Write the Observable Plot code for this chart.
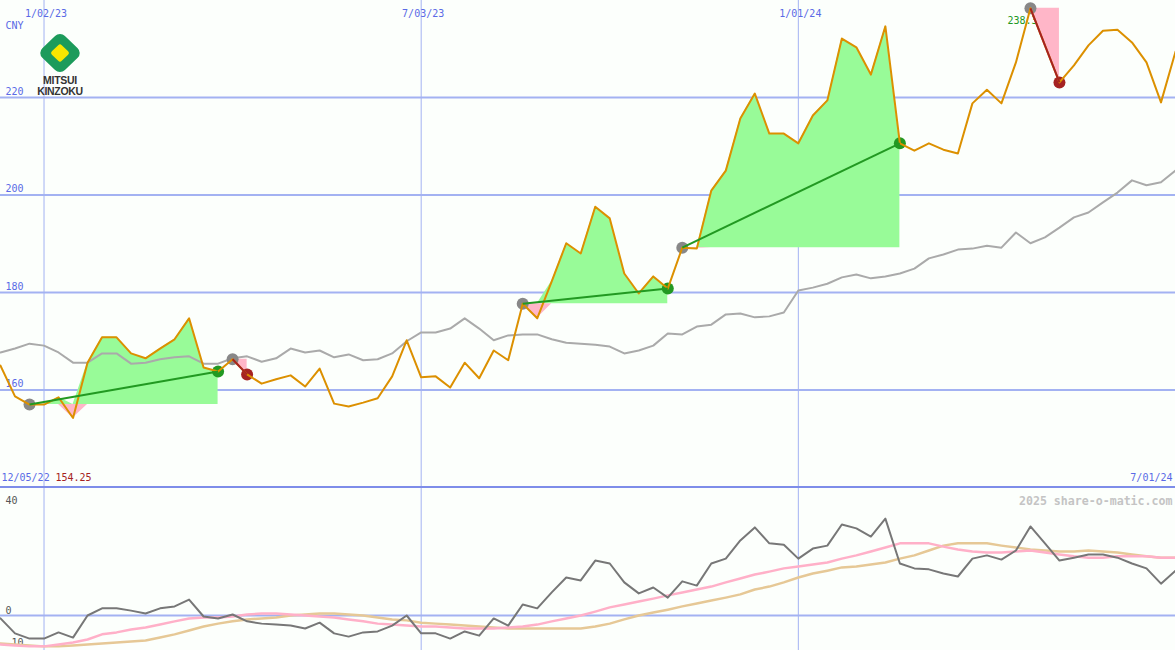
<!DOCTYPE html>
<html><head><meta charset="utf-8">
<script src="https://cdn.jsdelivr.net/npm/d3@7"></script>
<script src="https://cdn.jsdelivr.net/npm/@observablehq/plot@0.6"></script>
<style>
html,body{margin:0;padding:0;background:#fcfffc;}
#wrap{position:relative;width:1175px;height:650px;overflow:hidden;background:#fcfffc;}
#wrap svg{display:block;}
#sep{height:2px;background:#7e8de9;}
#logo{position:absolute;left:34px;top:32px;}
</style></head><body>
<div id="wrap">
<div id="top"></div><div id="sep"></div><div id="bottom"></div>
<svg id="logo" width="52" height="66" viewBox="0 0 52 66">
  <g transform="translate(26,21) scale(1,0.96) rotate(45)">
    <rect x="-16" y="-16" width="32" height="32" rx="7" fill="#1c9b5b"/>
    <rect x="-7" y="-7" width="14" height="14" rx="2.5" fill="#f8e600"/>
  </g>
  <text x="26" y="52" text-anchor="middle" font-family="Liberation Sans, Arial, sans-serif" font-weight="bold" font-size="10.5" letter-spacing="-0.3" fill="#333">MITSUI</text>
  <text x="26" y="62.5" text-anchor="middle" font-family="Liberation Sans, Arial, sans-serif" font-weight="bold" font-size="10.5" letter-spacing="-0.3" fill="#333">KINZOKU</text>
</svg>
</div>
<script>
// ---- data (weekly, starting Monday 2022-12-12) ----
const startDate = "2022-12-12";
const endDate = "2024-07-01";
const price = [
  165.0, 158.7, 157.0, 157.0, 158.5, 154.25, 165.6, 170.8, 170.8, 167.5,
  166.5, 168.5, 170.4, 174.7, 164.6, 163.8, 166.3, 163.2, 161.3, 162.2,
  163.0, 160.7, 164.4, 157.2, 156.6, 157.4, 158.3, 162.8, 170.2, 162.6,
  162.8, 160.5, 165.6, 162.4, 168.1, 166.1, 177.7, 174.7, 182.3, 190.1,
  188.0, 197.6, 195.2, 183.9, 179.8, 183.3, 180.8, 189.2, 189.0, 200.9,
  205.0, 215.7, 220.8, 212.6, 212.6, 210.6, 216.3, 219.4, 232.1, 230.3,
  224.7, 234.6, 210.6, 209.1, 210.6, 209.3, 208.5, 218.8, 221.6, 218.8,
  227.2, 238.3, 230.7, 223.1, 226.6, 230.7, 233.7, 233.9, 231.3, 227.2,
  219.0, 229.4
];
const relative = [
  167.7, 168.5, 169.5, 169.1, 167.7, 165.6, 165.6, 167.5, 167.5, 165.4,
  165.6, 166.3, 166.7, 166.9, 165.4, 165.4, 166.5, 166.9, 165.8, 166.5,
  168.5, 167.7, 168.1, 166.7, 167.3, 166.1, 166.3, 167.5, 170.0, 171.8,
  171.8, 172.6, 174.7, 172.6, 170.2, 171.2, 171.4, 171.4, 170.4, 169.7,
  169.5, 169.3, 168.9, 167.5, 168.1, 169.1, 171.6, 171.4, 173.0, 173.4,
  175.5, 175.7, 174.9, 175.1, 175.9, 180.4, 181.0, 181.8, 183.1, 183.7,
  182.9, 183.3, 183.9, 184.9, 187.0, 187.8, 188.8, 189.0, 189.6, 189.2,
  192.3, 190.1, 191.3, 193.3, 195.4, 196.4, 198.5, 200.5, 203.0, 202.0,
  202.6, 205.0
];
const momentum = [
  -0.9, -5.5, -7.1, -7.1, -5.2, -6.8, 0.0, 2.2, 2.2, 1.5,
  0.6, 2.2, 2.8, 4.9, -0.3, -0.9, 0.3, -1.8, -2.5, -2.8,
  -3.1, -4.0, -2.2, -5.5, -6.5, -5.2, -4.9, -3.1, 0.0, -5.5,
  -5.5, -7.1, -4.9, -6.2, -0.9, -3.1, 3.4, 2.2, 7.1, 11.7,
  10.8, 16.9, 16.0, 10.2, 6.8, 8.6, 5.5, 10.5, 9.2, 16.0,
  17.5, 23.1, 27.1, 22.2, 21.8, 17.5, 20.6, 21.5, 28.0, 26.8,
  24.3, 29.8, 16.0, 14.5, 14.2, 12.9, 12.0, 17.5, 18.5, 17.2,
  20.0, 27.4, 22.2, 16.9, 17.8, 18.8, 18.8, 17.8, 16.0, 14.5,
  9.8, 13.8
];
const avgFast = [
  -8.9, -9.2, -9.5, -9.5, -8.9, -8.3, -7.4, -5.8, -5.2, -4.3,
  -3.7, -2.8, -1.8, -0.9, -0.6, -0.6, -0.3, 0.3, 0.6, 0.6,
  0.3, 0.0, -0.3, -0.6, -1.2, -1.8, -2.5, -2.8, -3.1, -3.4,
  -3.4, -3.7, -4.0, -4.0, -4.0, -3.7, -3.4, -2.8, -1.8, -0.9,
  0.0, 1.2, 2.5, 3.4, 4.3, 5.2, 6.2, 7.1, 8.0, 8.9,
  10.2, 11.4, 12.6, 13.5, 14.5, 15.1, 15.7, 16.3, 17.5, 18.5,
  19.7, 20.9, 22.2, 22.2, 22.2, 21.2, 20.3, 19.7, 19.4, 19.4,
  19.7, 20.0, 19.4, 18.8, 18.2, 17.8, 17.8, 18.2, 18.2, 18.2,
  17.8, 17.8
];
const avgSlow = [
  -8.6, -8.9, -9.2, -9.5, -9.5, -9.2, -8.9, -8.6, -8.3, -8.0,
  -7.7, -6.8, -5.8, -4.6, -3.4, -2.5, -1.8, -1.2, -0.9, -0.6,
  0.0, 0.3, 0.6, 0.6, 0.3, 0.0, -0.6, -1.2, -1.5, -2.2,
  -2.5, -2.8, -3.1, -3.4, -3.7, -4.0, -4.0, -4.0, -4.0, -4.0,
  -4.0, -3.4, -2.5, -1.2, 0.0, 0.9, 1.8, 2.8, 3.7, 4.6,
  5.5, 6.5, 8.0, 8.9, 10.2, 11.7, 12.9, 13.8, 14.8, 15.1,
  15.7, 16.3, 17.5, 18.5, 20.0, 21.5, 22.2, 22.2, 22.2, 21.5,
  20.9, 20.3, 20.0, 19.7, 19.7, 20.0, 19.7, 19.4, 18.8, 18.2,
  17.8, 17.8
];
// trades (entry week -> exit week)
const tradeEntry = ["2022-12-26", "2023-04-03", "2023-08-21", "2023-11-06", "2024-04-22"];
const tradeExit  = ["2023-03-27", "2023-04-10", "2023-10-30", "2024-02-19", "2024-05-06"];
// tick labels
const xTickDates = ["2023-01-02", "2023-07-03", "2024-01-01"];
const xTickLabels = ["1/02/23", "7/03/23", "1/01/24"];
const yTicks = [160, 180, 200, 220];
const lowerTicks = [40, 0, -10];
const startLabel = "12/05/22";
const endLabel = "7/01/24";
const currency = "CNY";
const watermark = "2025 share-o-matic.com";

// ---- derived tables ----
const parse = s => new Date(s + "T00:00:00Z");
const t0 = parse(startDate);
const dates = price.map((_, i) => d3.utcDay.offset(t0, 7 * i));
const key = d => d.toISOString().slice(0, 10);
const idxOf = new Map(dates.map((d, i) => [key(d), i]));
const rows = dates.map((d, i) => ({date: d, price: price[i], relative: relative[i],
  momentum: momentum[i], avgFast: avgFast[i], avgSlow: avgSlow[i]}));
const trades = tradeEntry.map((e, k) => {
  const i0 = idxOf.get(e), i1 = idxOf.get(tradeExit[k]);
  return {k, i0, i1, d0: dates[i0], d1: dates[i1], p0: price[i0], p1: price[i1], win: price[i1] >= price[i0]};
});
const fillRows = trades.flatMap(t => d3.range(t.i0, t.i1 + 1).map(i => ({
  k: t.k, date: dates[i], base: t.p0, hi: Math.max(price[i], t.p0), lo: Math.min(price[i], t.p0)})));
const xTicks = xTickDates.map(parse);
const iMax = d3.maxIndex(price), iMin = d3.minIndex(price);

const xDomain = [t0, parse(endDate)];
const grid = "#a3b2f2";
const blue = "#5a6ae6";
const font = "DejaVu Sans Mono, monospace";

const upper = Plot.plot({
  width: 1175, height: 486, margin: 0,
  x: {type: "utc", domain: xDomain, axis: null},
  y: {domain: [140.2, 239.9], axis: null},
  style: {background: "transparent", fontFamily: font, fontSize: "10px", overflow: "visible"},
  marks: [
    Plot.ruleY(yTicks, {stroke: grid, strokeWidth: 2}),
    Plot.ruleX(xTicks, {stroke: grid, strokeWidth: 1}),
    Plot.text(yTicks, {y: d => d, text: d => String(d), frameAnchor: "left", textAnchor: "start", dx: 5, dy: -6, fill: blue}),
    Plot.text(xTicks, {x: d => d, text: (d, i) => xTickLabels[i], frameAnchor: "top", dy: 9, dx: 2, fill: blue}),
    Plot.text([currency], {text: d => d, frameAnchor: "top-left", textAnchor: "start", dx: 5, dy: 21, fill: blue}),
    Plot.text([startLabel], {text: d => d, frameAnchor: "bottom-left", textAnchor: "start", dx: 1, dy: -6, fill: blue}),
    Plot.text([price[iMin]], {text: d => String(d), frameAnchor: "bottom-left", textAnchor: "start", dx: 55, dy: -6, fill: "#a52222"}),
    Plot.text([endLabel], {text: d => d, frameAnchor: "bottom-right", textAnchor: "end", dx: -3, dy: -6, fill: blue}),
    Plot.text([rows[iMax]], {x: "date", y: "price", text: d => String(d.price), dx: -8, dy: 12, fill: "#229922"}),
    Plot.areaY(fillRows, {x: "date", y1: "base", y2: "hi", z: "k", fill: "#98fb98", curve: "linear"}),
    Plot.areaY(fillRows, {x: "date", y1: "base", y2: "lo", z: "k", fill: "#ffb6c8", curve: "linear"}),
    Plot.line(rows, {x: "date", y: "relative", stroke: "#aaaaaa", strokeWidth: 2}),
    Plot.dot(trades, {x: "d0", y: "p0", r: 6, fill: "#888888"}),
    Plot.dot(trades, {x: "d1", y: "p1", r: 6, fill: d => d.win ? "#229922" : "#a52222"}),
    Plot.line(rows, {x: "date", y: "price", stroke: "#dc9000", strokeWidth: 2}),
    Plot.link(trades, {x1: "d0", y1: "p0", x2: "d1", y2: "p1", stroke: d => d.win ? "#229922" : "#a52222", strokeWidth: 2})
  ]
});

const lowerDomain = [-10.77, 39.08];
const lower = Plot.plot({
  width: 1175, height: 162, margin: 0,
  x: {type: "utc", domain: xDomain, axis: null},
  y: {domain: lowerDomain, axis: null},
  style: {background: "transparent", fontFamily: font, fontSize: "10px"},
  marks: [
    Plot.ruleX(xTicks, {stroke: grid, strokeWidth: 1}),
    Plot.ruleY([0], {stroke: grid, strokeWidth: 2}),
    Plot.text(lowerTicks.filter(t => t <= lowerDomain[1]), {y: d => d, text: d => String(d), frameAnchor: "left", textAnchor: "start", dx: 5, dy: -5, fill: "#555"}),
    Plot.text(lowerTicks.filter(t => t > lowerDomain[1]), {text: d => String(d), frameAnchor: "top-left", textAnchor: "start", dx: 5, dy: 8, fill: "#555"}),
    Plot.text([watermark], {text: d => d, frameAnchor: "top-right", textAnchor: "end", dx: -3, dy: 8, fill: "#c4c4c4", fontWeight: "bold", fontSize: 11.6}),
    Plot.line(rows, {x: "date", y: "avgSlow", stroke: "#e6c896", strokeWidth: 2.5}),
    Plot.line(rows, {x: "date", y: "avgFast", stroke: "#ffb0c8", strokeWidth: 2.5}),
    Plot.line(rows, {x: "date", y: "momentum", stroke: "#777777", strokeWidth: 2})
  ]
});

document.getElementById("top").appendChild(upper);
document.getElementById("bottom").appendChild(lower);
</script>
</body></html>
